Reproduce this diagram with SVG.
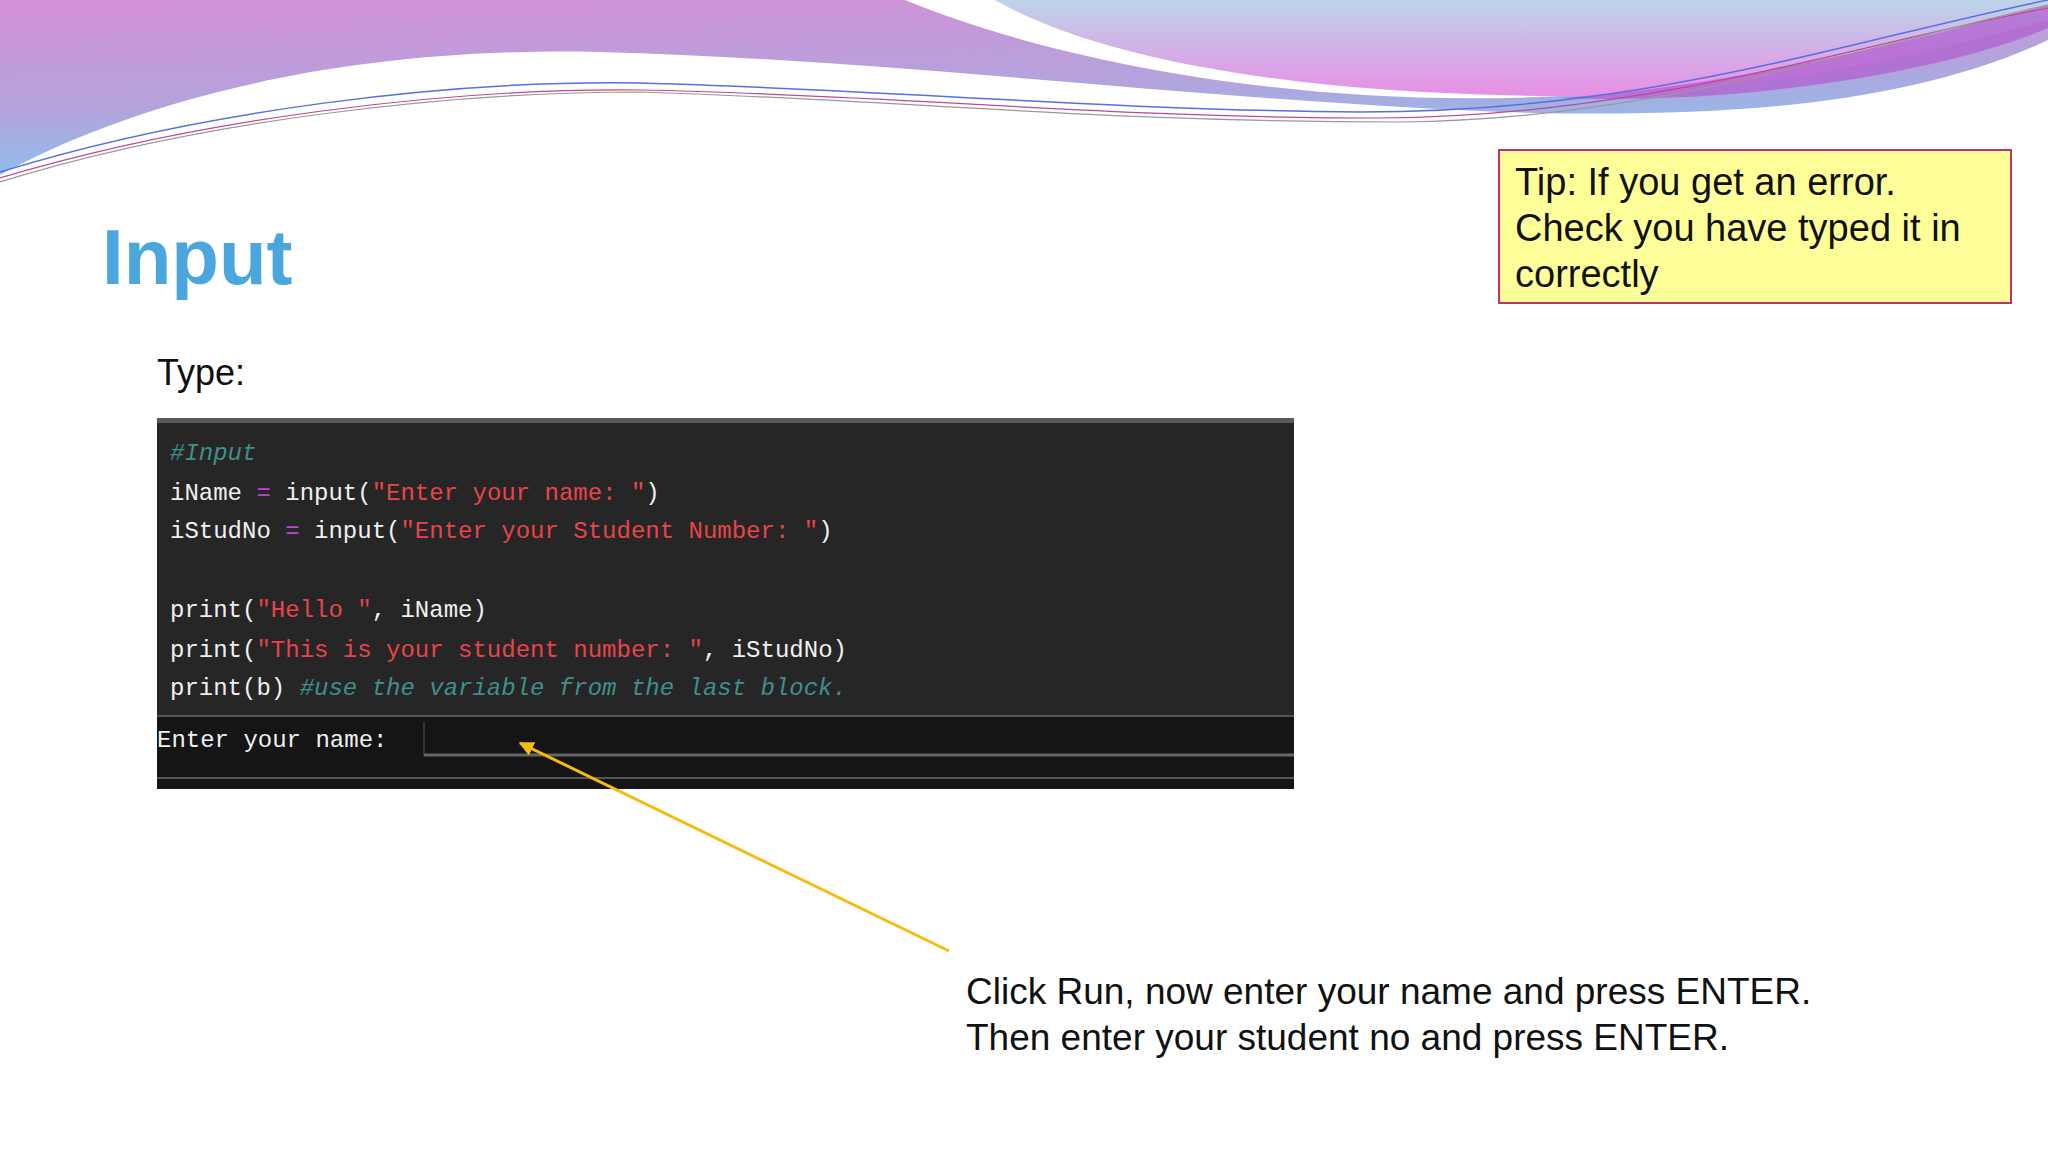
<svg xmlns="http://www.w3.org/2000/svg" width="2048" height="1152" viewBox="0 0 2048 1152">
<defs>
<linearGradient id="g1" x1="0" y1="0" x2="0.3" y2="1"><stop offset="0" stop-color="#d48fd5"/><stop offset="0.6" stop-color="#b2a4dc"/><stop offset="1" stop-color="#86c4ef"/></linearGradient>
<linearGradient id="g2" x1="0" y1="0" x2="0" y2="1"><stop offset="0" stop-color="#bcd4ea"/><stop offset="1" stop-color="#e88fe4"/></linearGradient>
<marker id="ah" viewBox="0 0 10 10" refX="9" refY="5" markerWidth="5" markerHeight="5" orient="auto"><path d="M0,0 L10,5 L0,10 Z" fill="#f3bc12"/></marker>
<style>
.code{font-family:"Liberation Mono",monospace;font-size:24px;fill:#f0f0f0}
.s{fill:#e8444a}.c{fill:#3f8f8c;font-style:italic}.o{fill:#c040e0}
.sans{font-family:"Liberation Sans",Arial,sans-serif;fill:#111}
</style>
</defs>
<rect width="2048" height="1152" fill="#fff"/>
<g id="waves">
<path d="M0,0 H2048 V40 C1900,110 1700,118 1500,112 C1200,100 900,60 600,52 C300,45 100,120 0,175 Z" fill="url(#g1)"/>
<path d="M995,0 H2048 V20 C1900,60 1750,95 1560,96 C1300,95 1100,60 995,0 Z" fill="url(#g2)"/>
<path d="M905,0 L995,0 C1100,60 1300,95 1560,96 C1300,110 1050,60 905,0 Z" fill="#fff"/>
<path d="M1560,98 C1750,85 1950,30 2048,5 V28 C1950,70 1750,105 1560,98 Z" fill="#b060d0" opacity="0.75"/>
<path d="M0,172 C200,110 450,80 640,83 C900,90 1100,110 1360,112 C1650,112 1850,40 2048,0" fill="none" stroke="#5a6ee0" stroke-width="1.5"/>
<path d="M0,178 C200,118 450,88 640,90 C900,95 1100,118 1380,118 C1650,116 1850,45 2048,8" fill="none" stroke="#c04890" stroke-width="1.2"/>
<path d="M0,182 C200,120 450,92 640,92 C900,100 1100,122 1400,122 C1650,120 1850,50 2048,5" fill="none" stroke="#999" stroke-width="1.2"/>
</g>
<g id="title"><text x="102" y="284" font-family="Liberation Sans, Arial, sans-serif" font-weight="bold" font-size="78" fill="#4aa6dc">Input</text></g>
<g id="type"><text x="157" y="385" class="sans" font-size="36">Type:</text></g>
<g id="tip">
<rect x="1499" y="150" width="512" height="153" fill="#ffff99" stroke="#c0306a" stroke-width="2"/>
<text class="sans" font-size="38"><tspan x="1515" y="195">Tip: If you get an error.</tspan><tspan x="1515" y="241">Check you have typed it in</tspan><tspan x="1515" y="287">correctly</tspan></text>
</g>
<g id="code">
<rect x="157" y="418" width="1137" height="371" fill="#262626"/>
<rect x="157" y="418" width="1137" height="5" fill="#5a5a5a"/>
<rect x="157" y="716" width="1137" height="73" fill="#151515"/>
<line x1="157" y1="716" x2="1294" y2="716" stroke="#555" stroke-width="2"/>
<line x1="424" y1="722" x2="424" y2="756" stroke="#333" stroke-width="2"/>
<line x1="424" y1="755" x2="1294" y2="755" stroke="#666" stroke-width="3"/>
<line x1="157" y1="778" x2="1294" y2="778" stroke="#555" stroke-width="2"/>
<text class="code"><tspan x="170" y="460" class="c">#Input</tspan></text>
<text class="code" x="170" y="500">iName <tspan class="o">=</tspan> input(<tspan class="s">"Enter your name: "</tspan>)</text>
<text class="code" x="170" y="538">iStudNo <tspan class="o">=</tspan> input(<tspan class="s">"Enter your Student Number: "</tspan>)</text>
<text class="code" x="170" y="617">print(<tspan class="s">"Hello "</tspan>, iName)</text>
<text class="code" x="170" y="657">print(<tspan class="s">"This is your student number: "</tspan>, iStudNo)</text>
<text class="code" x="170" y="695">print(b) <tspan class="c">#use the variable from the last block.</tspan></text>
<text class="code" x="157" y="747">Enter your name:</text>
</g>
<g id="connectors"><line x1="949" y1="951" x2="520" y2="743" stroke="#f3bc12" stroke-width="3" marker-end="url(#ah)"/></g>
<g id="note"><text class="sans" font-size="37"><tspan x="966" y="1004">Click Run, now enter your name and press ENTER.</tspan><tspan x="966" y="1050">Then enter your student no and press ENTER.</tspan></text></g>
</svg>
